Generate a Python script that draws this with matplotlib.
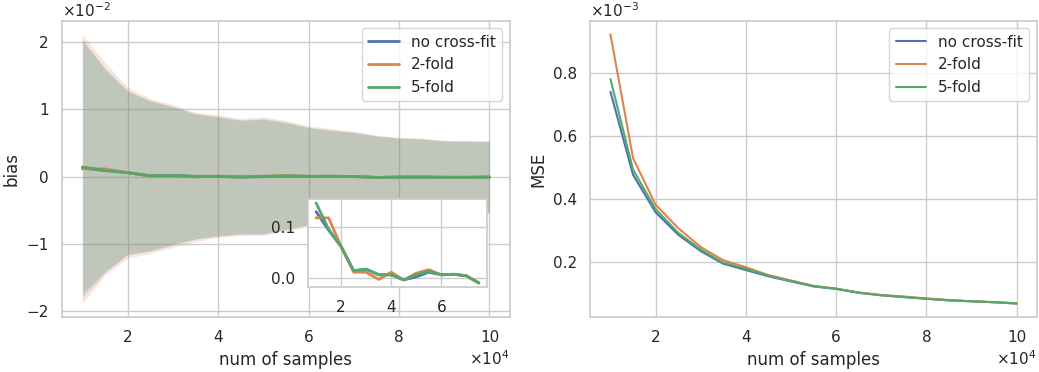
import numpy as np
import matplotlib
matplotlib.use("Agg")
import matplotlib.pyplot as plt
import matplotlib.ticker as mticker
import seaborn as sns

sns.set_theme(style="whitegrid")

# number of samples
n_samples = [10000, 15000, 20000, 25000, 30000, 35000, 40000, 45000, 50000, 55000,
             60000, 65000, 70000, 75000, 80000, 85000, 90000, 95000, 100000]
methods = ["no cross-fit", "2-fold", "5-fold"]

# bias (units of 1e-2)
bias_none = [0.129, 0.093, 0.061, 0.014, 0.017, 0.006, 0.006, -0.004, 0.002, 0.011,
             0.006, 0.007, 0.004, -0.010, -0.005, -0.004, -0.008, -0.008, -0.005]
bias_2 = [0.117, 0.117, 0.061, 0.011, 0.011, -0.003, 0.011, -0.004, 0.009, 0.016,
          0.006, 0.007, 0.004, -0.010, -0.004, -0.003, -0.007, -0.008, -0.005]
bias_5 = [0.146, 0.095, 0.061, 0.014, 0.017, 0.006, 0.006, -0.004, 0.006, 0.013,
          0.006, 0.007, 0.004, -0.010, -0.005, -0.004, -0.008, -0.008, -0.005]

# std of bias (units of 1e-2)
std_none = [1.92, 1.52, 1.22, 1.12, 1.03, 0.93, 0.89, 0.85, 0.86, 0.80,
            0.73, 0.69, 0.66, 0.62, 0.58, 0.57, 0.54, 0.54, 0.53]
std_2 = [2.00, 1.58, 1.27, 1.15, 1.06, 0.96, 0.91, 0.87, 0.88, 0.82,
         0.75, 0.71, 0.67, 0.63, 0.59, 0.58, 0.55, 0.55, 0.54]
std_5 = [1.87, 1.50, 1.21, 1.11, 1.02, 0.93, 0.88, 0.84, 0.85, 0.79,
         0.72, 0.68, 0.65, 0.61, 0.58, 0.56, 0.54, 0.53, 0.52]

# MSE (units of 1e-3)
mse_none = [0.740, 0.477, 0.358, 0.287, 0.235, 0.195, 0.175, 0.155, 0.139, 0.123,
            0.115, 0.103, 0.095, 0.089, 0.084, 0.079, 0.076, 0.073, 0.069]
mse_2 = [0.922, 0.530, 0.382, 0.308, 0.248, 0.206, 0.184, 0.159, 0.142, 0.125,
         0.116, 0.104, 0.096, 0.091, 0.085, 0.080, 0.076, 0.073, 0.070]
mse_5 = [0.780, 0.493, 0.368, 0.293, 0.240, 0.198, 0.179, 0.157, 0.140, 0.124,
         0.116, 0.103, 0.095, 0.090, 0.084, 0.079, 0.076, 0.073, 0.069]

n_inset = 14  # inset shows the first points


class OOMFormatter(mticker.ScalarFormatter):
    # scalar formatter with a fixed exponent
    def __init__(self, order=0, fformat="%g"):
        self.oom = order
        self.fformat = fformat
        mticker.ScalarFormatter.__init__(self, useOffset=False, useMathText=True)

    def _set_order_of_magnitude(self):
        self.orderOfMagnitude = self.oom

    def _set_format(self, vmin=None, vmax=None):
        self.format = self.fformat


x = np.array(n_samples)
biases = [np.array(bias_none), np.array(bias_2), np.array(bias_5)]
stds = [np.array(std_none), np.array(std_2), np.array(std_5)]
mses = [np.array(mse_none), np.array(mse_2), np.array(mse_5)]
colors = sns.color_palette()[:3]

fig = plt.figure(figsize=(10.39, 3.72), dpi=100)
ax1 = fig.add_axes([0.0597, 0.148, 0.431, 0.796])
ax2 = fig.add_axes([0.568, 0.148, 0.430, 0.796])

for b, s, c, lab in zip(biases, stds, colors, methods):
    ax1.plot(x, b * 1e-2, color=c, label=lab, linewidth=2)
    ax1.fill_between(x, (b - s) * 1e-2, (b + s) * 1e-2, color=c, alpha=0.2, linewidth=0)
ax1.set_xlabel("num of samples")
ax1.set_ylabel("bias")
ax1.set_xticks([20000, 40000, 60000, 80000, 100000])
ax1.set_yticks([-0.02, -0.01, 0.0, 0.01, 0.02])
ax1.xaxis.set_major_formatter(OOMFormatter(4))
ax1.yaxis.set_major_formatter(OOMFormatter(-2))
ax1.legend(loc="upper right")

for m, c, lab in zip(mses, colors, methods):
    ax2.plot(x, m * 1e-3, color=c, label=lab)
ax2.set_xlabel("num of samples")
ax2.set_ylabel("MSE")
ax2.set_xticks([20000, 40000, 60000, 80000, 100000])
ax2.set_yticks([0.0002, 0.0004, 0.0006, 0.0008])
ax2.xaxis.set_major_formatter(OOMFormatter(4))
ax2.yaxis.set_major_formatter(OOMFormatter(-3, "%.1f"))
ax2.legend(loc="upper right")

# inset zoom of the mean bias
axin = fig.add_axes([0.2964, 0.2285, 0.1723, 0.2366])
for b, c in zip(biases, colors):
    axin.plot(x[:n_inset] / 1e4, b[:n_inset], color=c, linewidth=2)
axin.set_xticks([2, 4, 6])
axin.set_yticks([0.0, 0.1])
axin.set_facecolor("white")

fig.savefig("out.png", dpi=100)
